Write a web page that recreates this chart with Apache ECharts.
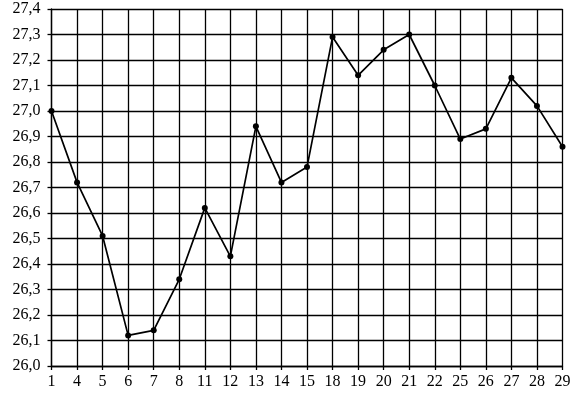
<!DOCTYPE html>
<html><head><meta charset="utf-8">
<script src="https://cdn.jsdelivr.net/npm/echarts@6/dist/echarts.min.js"></script>
<style>html,body{margin:0;padding:0;background:#fff}#c{width:575px;height:395px}</style>
</head><body><div id="c"></div>
<script>
const categories = ['1','4','5','6','7','8','11','12','13','14','15','18','19','20','21','22','25','26','27','28','29'];
const values = [27.00,26.72,26.51,26.12,26.14,26.34,26.62,26.43,26.94,26.72,26.78,27.29,27.14,27.24,27.30,27.10,26.89,26.93,27.13,27.02,26.86];
const yMin = 26.0, yMax = 27.4, yStep = 0.1;

const chart = echarts.init(document.getElementById('c'), null, {renderer:'canvas'});
const font = {fontFamily:'Liberation Serif', fontSize:16, color:'#000'};
chart.setOption({
  animation:false,
  backgroundColor:'#fff',
  grid:{left:51.5, right:12.5, top:9, bottom:29, containLabel:false},
  xAxis:{
    type:'category', data:categories, boundaryGap:false,
    axisLine:{lineStyle:{color:'#000', width:1.3}},
    axisTick:{show:true, length:4, inside:false, lineStyle:{color:'#000', width:1.3}},
    axisLabel:Object.assign({margin:8, interval:0}, font),
    splitLine:{show:true, lineStyle:{color:'#000', width:1.3}}
  },
  yAxis:{
    type:'value', min:yMin, max:yMax, interval:yStep,
    axisLine:{show:true, lineStyle:{color:'#000', width:1.3}},
    axisTick:{show:true, length:4, lineStyle:{color:'#000', width:1.3}},
    axisLabel:Object.assign({margin:11, formatter:v=>v.toFixed(1).replace('.',',')}, font),
    splitLine:{show:true, lineStyle:{color:'#000', width:1.3}}
  },
  series:[{
    type:'line', data:values,
    symbol:'circle', symbolSize:6,
    itemStyle:{color:'#000'},
    lineStyle:{color:'#000', width:1.7}
  }]
});
</script></body></html>
